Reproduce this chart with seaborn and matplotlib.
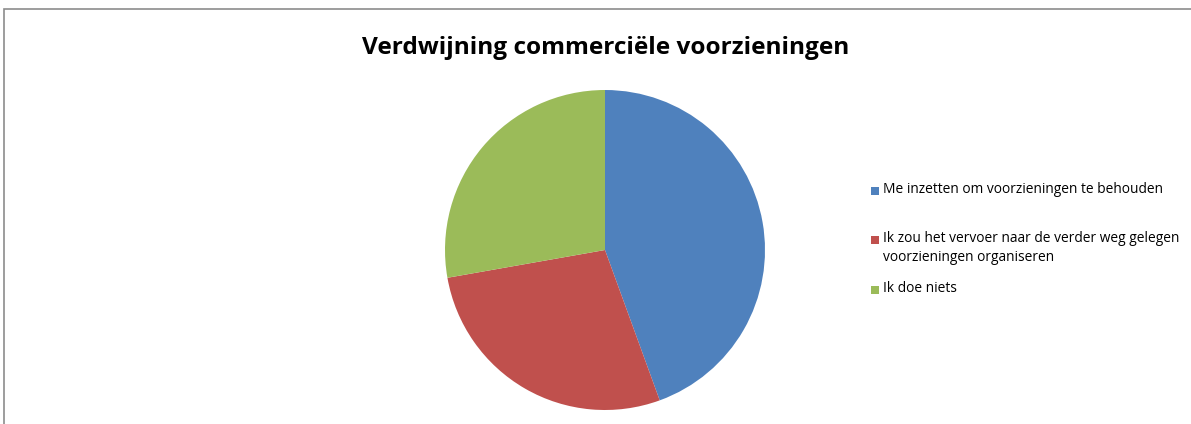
import matplotlib
matplotlib.use('Agg')
from matplotlib import pyplot as plt
from matplotlib.patches import Rectangle
import seaborn as sns

# --- 数据 ---
labels = ['Me inzetten om voorzieningen te behouden',
          'Ik zou het vervoer naar de verder weg gelegen\nvoorzieningen organiseren',
          'Ik doe niets']
values = [16, 10, 10]
colors = ['#4F81BD', '#C0504D', '#9BBB59']
title = 'Verdwijning commerciële voorzieningen'

sns.set_theme(style='white')
plt.rcParams['font.family'] = ['Open Sans', 'DejaVu Sans']

W, H = 1191, 424
fig = plt.figure(figsize=(W / 100, H / 100), dpi=100)

# 外框
fig.add_artist(Rectangle((4 / W, -0.1), 1.2, (H - 9) / H + 0.1, transform=fig.transFigure,
                         fill=False, edgecolor='#8c8c8c', linewidth=1.2))

# 饼图
ax = fig.add_axes([445 / W, (H - 410) / H, 320 / W, 320 / H])
ax.pie(values, colors=colors, startangle=90, counterclock=False,
       wedgeprops={'linewidth': 0})
ax.set_xlim(-1, 1)
ax.set_ylim(-1, 1)
ax.set_aspect('equal')
ax.axis('off')

fig.text(606 / W, 1 - 48 / H, title, ha='center', va='center',
         fontsize=17.6, fontweight='bold', color='black')

# 图例（手动）
ys = [191, 240, 290]
for lab, col, y in zip(labels, colors, ys):
    fig.add_artist(Rectangle((871 / W, 1 - (y + 4) / H), 8 / W, 8 / H,
                             transform=fig.transFigure, facecolor=col, edgecolor='none'))
    fig.text(883 / W, 1 - (y - 9) / H, lab, ha='left', va='top',
             fontsize=9.9, color='black', linespacing=1.32)

plt.savefig('out.png', dpi=100)
plt.close()
